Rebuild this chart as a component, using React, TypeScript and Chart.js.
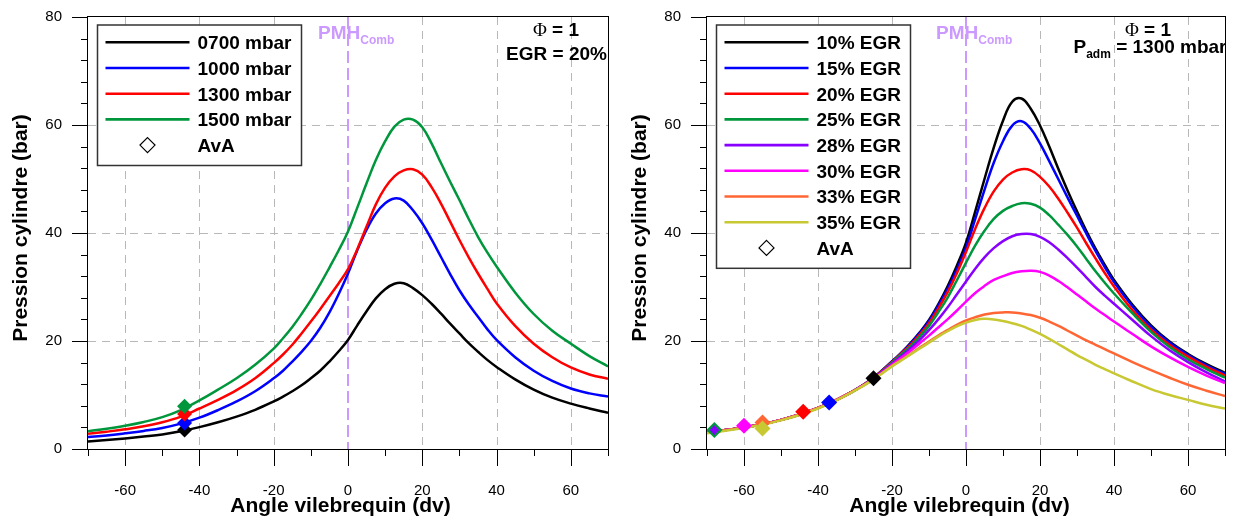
import React, { useEffect, useRef } from 'react';
import { Chart, registerables } from 'chart.js';

Chart.register(...registerables);

const FONT = "'Liberation Sans', Arial, Helvetica, sans-serif";
const SERIF = "'Liberation Serif', 'Times New Roman', serif";

// Crank angle samples (dv)
const ANGLES = [-70, -65, -60, -55, -50, -45, -40, -35, -30, -25, -20, -17.5, -15, -12.5, -10, -7.5, -5, -2.5, 0, 2.5, 5, 7.5, 10, 12.5, 15, 17.5, 20, 22.5, 25, 27.5, 30, 32.5, 35, 37.5, 40, 45, 50, 55, 60, 65, 70];

// Axis ticks
const X_MIN = -70;
const X_MAX = 70;
const X_STEP = 10;
const Y_MIN = 0;
const Y_MAX = 80;
const Y_STEP = 4;

// ---- Left chart : Phi = 1, EGR = 20%, intake pressure sweep ----
const LEFT_LABELS = ['0700 mbar', '1000 mbar', '1300 mbar', '1500 mbar'];
const LEFT_COLORS = ['#000000', '#0000ff', '#ff0000', '#00963c'];
const P_0700 = [1.4, 1.65, 1.95, 2.3, 2.7, 3.3, 4.05, 4.95, 6.0, 7.25, 8.8, 9.7, 10.7, 11.8, 13.1, 14.5, 16.2, 18.1, 20.2, 22.9, 25.5, 27.9, 29.6, 30.6, 30.7, 29.8, 28.5, 26.9, 25.1, 23.2, 21.4, 19.6, 18.0, 16.5, 15.2, 12.9, 11.0, 9.5, 8.4, 7.5, 6.7];
const P_1000 = [2.2, 2.5, 2.9, 3.35, 3.9, 4.7, 5.8, 7.2, 8.8, 10.7, 13.1, 14.5, 16.2, 18.0, 20.0, 22.4, 25.3, 28.7, 32.5, 36.8, 40.6, 43.6, 45.5, 46.4, 46.0, 44.2, 41.8, 38.8, 35.6, 32.4, 29.4, 26.8, 24.5, 22.2, 20.2, 17.0, 14.5, 12.6, 11.2, 10.3, 9.7];
const P_1300 = [2.8, 3.2, 3.65, 4.2, 4.95, 6.0, 7.5, 9.1, 10.9, 13.1, 15.9, 17.5, 19.3, 21.4, 23.6, 25.9, 28.3, 30.7, 33.3, 37.0, 41.2, 45.3, 48.4, 50.5, 51.6, 51.8, 50.8, 48.5, 45.5, 42.1, 38.7, 35.5, 32.5, 29.7, 27.0, 22.8, 19.5, 17.0, 15.1, 13.8, 13.0];
const P_1500 = [3.3, 3.75, 4.3, 5.0, 5.9, 7.2, 9.0, 11.0, 13.1, 15.6, 18.6, 20.5, 22.6, 25.0, 27.6, 30.5, 33.6, 36.8, 40.3, 44.7, 49.2, 53.5, 57.0, 59.7, 61.0, 61.0, 59.6, 56.6, 53.0, 49.5, 46.1, 42.6, 39.3, 36.4, 33.8, 29.0, 25.0, 21.9, 19.5, 17.2, 15.3];
const LEFT_AVA_ANGLES = [-44, -44, -44, -44];
const LEFT_AVA_VALUES = [3.5, 4.8, 6.5, 7.9];
const LEFT_AVA_RADII = [7.5, 7.5, 7.5, 7.5];

// ---- Right chart : Phi = 1, Padm = 1300 mbar, EGR sweep ----
const RIGHT_LABELS = ['10% EGR', '15% EGR', '20% EGR', '25% EGR', '28% EGR', '30% EGR', '33% EGR', '35% EGR'];
const RIGHT_COLORS = ['#000000', '#0000ff', '#ff0000', '#00963c', '#8800ff', '#ff00ff', '#ff6633', '#c8c832'];
const EGR_10 = [3.0, 3.5, 4.0, 4.6, 5.4, 6.4, 7.6, 9.1, 10.9, 13.2, 16.2, 17.8, 19.6, 21.6, 23.9, 26.8, 30.1, 33.9, 38.2, 44.0, 50.0, 55.8, 60.8, 64.3, 64.9, 63.0, 59.9, 56.0, 51.8, 47.8, 44.0, 40.4, 37.1, 34.1, 31.3, 26.7, 22.9, 19.9, 17.6, 15.7, 14.1];
const EGR_15 = [3.0, 3.5, 4.0, 4.6, 5.4, 6.4, 7.6, 9.1, 10.9, 13.2, 16.2, 17.8, 19.5, 21.5, 23.7, 26.5, 29.6, 33.2, 37.3, 42.6, 48.0, 53.0, 57.0, 59.9, 60.7, 59.3, 56.6, 53.3, 49.9, 46.5, 43.2, 39.9, 36.7, 33.7, 30.9, 26.4, 22.6, 19.7, 17.4, 15.5, 13.9];
const EGR_20 = [3.0, 3.5, 4.0, 4.6, 5.4, 6.4, 7.6, 9.1, 10.9, 13.2, 16.1, 17.7, 19.3, 21.2, 23.3, 26.0, 29.0, 32.5, 36.5, 40.8, 44.6, 47.7, 49.9, 51.2, 51.8, 51.6, 50.4, 48.6, 46.3, 43.7, 41.0, 38.1, 35.3, 32.6, 30.1, 25.7, 22.1, 19.3, 17.1, 15.2, 13.6];
const EGR_25 = [3.0, 3.5, 4.0, 4.6, 5.4, 6.4, 7.6, 9.1, 10.9, 13.1, 16.0, 17.5, 19.0, 20.8, 22.8, 25.3, 28.0, 31.2, 34.5, 37.7, 40.4, 42.6, 44.1, 45.0, 45.5, 45.4, 44.7, 43.3, 41.5, 39.6, 37.5, 35.2, 32.9, 30.8, 28.8, 25.1, 21.7, 18.9, 16.6, 14.8, 13.2];
const EGR_28 = [3.0, 3.5, 4.0, 4.6, 5.4, 6.4, 7.6, 9.1, 10.9, 13.1, 15.8, 17.2, 18.6, 20.2, 22.0, 24.0, 26.2, 28.6, 31.0, 33.4, 35.5, 37.2, 38.5, 39.4, 39.8, 39.8, 39.3, 38.3, 36.9, 35.3, 33.6, 31.8, 30.0, 28.4, 26.9, 23.9, 20.9, 18.3, 16.1, 14.2, 12.5];
const EGR_30 = [3.0, 3.5, 4.0, 4.6, 5.4, 6.4, 7.6, 9.1, 10.9, 13.0, 15.6, 16.9, 18.2, 19.6, 21.0, 22.5, 24.0, 25.6, 27.3, 28.9, 30.2, 31.3, 32.0, 32.6, 32.9, 33.0, 32.8, 32.1, 31.1, 29.9, 28.6, 27.3, 26.0, 24.8, 23.6, 21.3, 19.0, 17.0, 15.2, 13.6, 12.2];
const EGR_33 = [3.0, 3.5, 4.0, 4.6, 5.4, 6.4, 7.6, 9.1, 10.9, 12.9, 15.4, 16.5, 17.6, 18.8, 19.9, 21.0, 22.0, 23.0, 23.8, 24.4, 24.9, 25.2, 25.3, 25.3, 25.1, 24.8, 24.3, 23.6, 22.8, 21.9, 21.0, 20.1, 19.3, 18.5, 17.7, 16.1, 14.6, 13.2, 11.9, 10.8, 9.8];
const EGR_35 = [2.9, 3.4, 3.9, 4.5, 5.3, 6.3, 7.5, 9.0, 10.8, 12.9, 15.3, 16.4, 17.5, 18.6, 19.7, 20.8, 21.8, 22.7, 23.4, 23.9, 24.1, 24.0, 23.7, 23.3, 22.8, 22.1, 21.3, 20.4, 19.4, 18.4, 17.4, 16.5, 15.6, 14.8, 14.0, 12.5, 11.1, 10.0, 9.1, 8.2, 7.5];
const RIGHT_AVA_ANGLES = [-25, -37, -44, -68, -68, -60, -55, -55];
const RIGHT_AVA_VALUES = [13.1, 8.6, 6.9, 3.5, 3.5, 4.3, 4.9, 3.8];
const RIGHT_AVA_RADII = [8, 8, 8, 8, 4.8, 8, 8, 8];

const X_TITLE = 'Angle vilebrequin (dv)';
const Y_TITLE = 'Pression cylindre (bar)';
const AVA_LABEL = 'AvA';
const PMH_MAIN = 'PMH';
const PMH_SUB = 'Comb';

type Cfg = {
  labels: string[];
  colors: string[];
  series: number[][];
  avaAngles: number[];
  avaValues: number[];
  avaRadii: number[];
  legendWidth: number;
  padRight: number;
  annotate: (ctx: CanvasRenderingContext2D, a: any) => void;
};

function drawPhi(ctx: CanvasRenderingContext2D, cx: number, baseline: number) {
  ctx.font = `19px ${SERIF}`;
  const wPhi = ctx.measureText('Φ').width;
  ctx.font = `bold 19px ${FONT}`;
  const rest = ' = 1';
  const wRest = ctx.measureText(rest).width;
  const x0 = cx - (wPhi + wRest) / 2;
  ctx.textAlign = 'left';
  ctx.textBaseline = 'alphabetic';
  ctx.fillStyle = '#000';
  ctx.font = `19px ${SERIF}`;
  ctx.fillText('Φ', x0, baseline);
  ctx.font = `bold 19px ${FONT}`;
  ctx.fillText(rest, x0 + wPhi, baseline);
}

const leftAnnot = (ctx: CanvasRenderingContext2D, a: any) => {
  drawPhi(ctx, a.right - 52, a.top + 18.7);
  ctx.font = `bold 19px ${FONT}`;
  ctx.textAlign = 'center';
  ctx.fillStyle = '#000';
  ctx.fillText('EGR = 20%', a.right - 51.5, a.top + 43);
};

const rightAnnot = (ctx: CanvasRenderingContext2D, a: any) => {
  drawPhi(ctx, a.right - 77, a.top + 18.7);
  ctx.save();
  ctx.beginPath();
  ctx.rect(a.left, a.top, a.right - a.left, a.bottom - a.top);
  ctx.clip();
  ctx.textAlign = 'left';
  ctx.fillStyle = '#000';
  let x = a.right - 151.5;
  const base = a.top + 36.3;
  ctx.font = `bold 19px ${FONT}`;
  ctx.fillText('P', x, base);
  x += ctx.measureText('P').width;
  ctx.font = `bold 12px ${FONT}`;
  ctx.fillText('adm', x, base + 5);
  x += ctx.measureText('adm').width;
  ctx.font = `bold 19px ${FONT}`;
  ctx.fillText(' = 1300 mbar', x, base);
  ctx.restore();
};

const LEFT_CFG: Cfg = {
  labels: LEFT_LABELS,
  colors: LEFT_COLORS,
  series: [P_0700, P_1000, P_1300, P_1500],
  avaAngles: LEFT_AVA_ANGLES,
  avaValues: LEFT_AVA_VALUES,
  avaRadii: LEFT_AVA_RADII,
  legendWidth: 204,
  padRight: 8,
  annotate: leftAnnot,
};

const RIGHT_CFG: Cfg = {
  labels: RIGHT_LABELS,
  colors: RIGHT_COLORS,
  series: [EGR_10, EGR_15, EGR_20, EGR_25, EGR_28, EGR_30, EGR_33, EGR_35],
  avaAngles: RIGHT_AVA_ANGLES,
  avaValues: RIGHT_AVA_VALUES,
  avaRadii: RIGHT_AVA_RADII,
  legendWidth: 194,
  padRight: 6,
  annotate: rightAnnot,
};

function zeroPad(s: any) {
  s.paddingTop = 0;
  s.paddingBottom = 0;
  s.paddingLeft = 0;
  s.paddingRight = 0;
}

function buildConfig(cfg: Cfg): any {
  const datasets: any[] = cfg.series.map((vals, i) => ({
    type: 'line',
    label: cfg.labels[i],
    data: ANGLES.map((a, j) => ({ x: a, y: vals[j] })),
    borderColor: cfg.colors[i],
    backgroundColor: cfg.colors[i],
    borderWidth: 2.5,
    pointRadius: 0,
    fill: false,
    tension: 0.4,
    order: -i,
  }));
  datasets.push({
    type: 'line',
    label: AVA_LABEL,
    data: cfg.avaAngles.map((a, j) => ({ x: a, y: cfg.avaValues[j] })),
    showLine: false,
    pointStyle: 'rectRot',
    pointRadius: cfg.avaRadii,
    pointBackgroundColor: cfg.colors,
    pointBorderColor: cfg.colors,
    pointBorderWidth: 0,
    clip: false,
    order: -100,
  });

  const decor = {
    id: 'decor',
    beforeDatasetsDraw(chart: any) {
      const { ctx, chartArea: a, scales } = chart;
      const x = scales.x;
      const y = scales.y;
      ctx.save();
      ctx.strokeStyle = '#b8b8b8';
      ctx.lineWidth = 1;
      ctx.setLineDash([8, 6]);
      for (const t of x.ticks) {
        const v = t.value;
        if (v % 20 === 0 && v !== 0 && v > X_MIN && v < X_MAX) {
          const px = Math.round(x.getPixelForValue(v)) + 0.5;
          ctx.beginPath();
          ctx.moveTo(px, a.top);
          ctx.lineTo(px, a.bottom);
          ctx.stroke();
        }
      }
      for (const t of y.ticks) {
        const v = t.value;
        if (v % 20 === 0 && v > Y_MIN && v < Y_MAX) {
          const py = Math.round(y.getPixelForValue(v)) + 0.5;
          ctx.beginPath();
          ctx.moveTo(a.left, py);
          ctx.lineTo(a.right, py);
          ctx.stroke();
        }
      }
      // PMH line
      const p0 = x.getPixelForValue(0);
      ctx.strokeStyle = '#cc99ff';
      ctx.lineWidth = 2;
      ctx.setLineDash([12, 5]);
      ctx.beginPath();
      ctx.moveTo(p0, a.top);
      ctx.lineTo(p0, a.bottom);
      ctx.stroke();
      ctx.restore();
    },
    afterDatasetsDraw(chart: any) {
      const { ctx, chartArea: a, scales } = chart;
      const x = scales.x;
      const y = scales.y;
      ctx.save();
      ctx.setLineDash([]);
      ctx.strokeStyle = '#000';
      ctx.lineWidth = 1;
      ctx.strokeRect(Math.round(a.left) - 0.5, Math.round(a.top) - 0.5, Math.round(a.right - a.left) + 1, Math.round(a.bottom - a.top) + 1);
      for (const t of x.ticks) {
        const v = t.value;
        const len = v % 20 === 0 ? 17 : 7;
        const px = Math.round(x.getPixelForValue(v)) + 0.5;
        ctx.beginPath();
        ctx.moveTo(px, a.bottom);
        ctx.lineTo(px, a.bottom + len);
        ctx.stroke();
      }
      for (const t of y.ticks) {
        const v = t.value;
        const len = v % 20 === 0 ? 16 : 7;
        const py = Math.round(y.getPixelForValue(v)) + 0.5;
        ctx.beginPath();
        ctx.moveTo(a.left - len, py);
        ctx.lineTo(a.left, py);
        ctx.stroke();
      }
      // PMH label
      const p0 = x.getPixelForValue(0);
      ctx.fillStyle = '#cc99ff';
      ctx.textAlign = 'left';
      ctx.textBaseline = 'alphabetic';
      ctx.font = `bold 19px ${FONT}`;
      const lx = p0 - 30;
      ctx.fillText(PMH_MAIN, lx, a.top + 21.7);
      const w = ctx.measureText(PMH_MAIN).width;
      ctx.font = `bold 12px ${FONT}`;
      ctx.fillText(PMH_SUB, lx + w, a.top + 27.3);
      ctx.restore();
    },
    afterDraw(chart: any) {
      const { ctx, chartArea: a } = chart;
      ctx.save();
      // Legend box
      const rows = cfg.labels.length + 1;
      const rowH = 25.7;
      const bx = a.left + 9.5;
      const by = a.top + 8;
      const bw = cfg.legendWidth;
      const bh = rows * rowH + 12;
      ctx.fillStyle = '#fff';
      ctx.fillRect(bx, by, bw, bh);
      ctx.strokeStyle = '#333';
      ctx.lineWidth = 1.5;
      ctx.strokeRect(bx, by, bw, bh);
      ctx.font = `bold 19px ${FONT}`;
      ctx.textAlign = 'left';
      ctx.textBaseline = 'alphabetic';
      for (let i = 0; i < rows; i++) {
        const ry = by + 17.3 + i * rowH;
        if (i < cfg.labels.length) {
          ctx.strokeStyle = cfg.colors[i];
          ctx.lineWidth = 2.6;
          ctx.beginPath();
          ctx.moveTo(bx + 8, ry);
          ctx.lineTo(bx + 92, ry);
          ctx.stroke();
          ctx.fillStyle = '#000';
          ctx.fillText(cfg.labels[i], bx + 100, ry + 6.8);
        } else {
          const cx = bx + 50;
          const r = 7.5;
          ctx.strokeStyle = '#000';
          ctx.lineWidth = 1.2;
          ctx.beginPath();
          ctx.moveTo(cx, ry - r);
          ctx.lineTo(cx + r, ry);
          ctx.lineTo(cx, ry + r);
          ctx.lineTo(cx - r, ry);
          ctx.closePath();
          ctx.stroke();
          ctx.fillStyle = '#000';
          ctx.fillText(AVA_LABEL, bx + 100, ry + 6.8);
        }
      }
      // annotations
      cfg.annotate(ctx, a);
      // axis titles
      ctx.fillStyle = '#000';
      ctx.font = `bold 21px ${FONT}`;
      ctx.textAlign = 'center';
      ctx.textBaseline = 'middle';
      ctx.fillText(X_TITLE, a.left + 252.5, 506);
      ctx.translate(a.left - 66.5, 228);
      ctx.rotate(-Math.PI / 2);
      ctx.fillText(Y_TITLE, 0, 0);
      ctx.restore();
    },
  };

  return {
    type: 'line',
    data: { datasets },
    plugins: [decor],
    options: {
      animation: false,
      responsive: false,
      devicePixelRatio: 1,
      events: [],
      layout: { padding: { top: 17, right: cfg.padRight, left: 0, bottom: 0 } },
      plugins: { legend: { display: false }, tooltip: { enabled: false }, title: { display: false } },
      scales: {
        x: {
          type: 'linear',
          min: X_MIN,
          max: X_MAX,
          afterFit: (s: any) => {
            s.height = 68;
            zeroPad(s);
          },
          ticks: {
            stepSize: X_STEP,
            autoSkip: false,
            maxRotation: 0,
            padding: 33,
            color: '#000',
            font: { family: FONT, size: 15 },
            callback: (v: any) => (Number(v) % 20 === 0 ? String(v) : ''),
          },
          grid: { display: false, drawTicks: false },
          border: { display: false },
        },
        y: {
          type: 'linear',
          min: Y_MIN,
          max: Y_MAX,
          afterFit: (s: any) => {
            s.width = 88;
            zeroPad(s);
          },
          ticks: {
            stepSize: Y_STEP,
            autoSkip: false,
            padding: 26,
            color: '#000',
            font: { family: FONT, size: 15 },
            callback: (v: any) => (Number(v) % 20 === 0 ? String(v) : ''),
          },
          grid: { display: false, drawTicks: false },
          border: { display: false },
        },
      },
    },
  };
}

function PressureChart({ cfg, left, width }: { cfg: Cfg; left: number; width: number }) {
  const ref = useRef<HTMLCanvasElement>(null);
  useEffect(() => {
    const chart = new Chart(ref.current as HTMLCanvasElement, buildConfig(cfg));
    return () => chart.destroy();
  }, [cfg]);
  return (
    <canvas
      ref={ref}
      width={width}
      height={517}
      style={{ position: 'absolute', left, top: 0, width, height: 517 }}
    />
  );
}

export default function App() {
  return (
    <div style={{ position: 'absolute', left: 0, top: 0, width: 1233, height: 517, background: '#fff' }}>
      <PressureChart cfg={LEFT_CFG} left={0} width={616} />
      <PressureChart cfg={RIGHT_CFG} left={619} width={614} />
    </div>
  );
}
